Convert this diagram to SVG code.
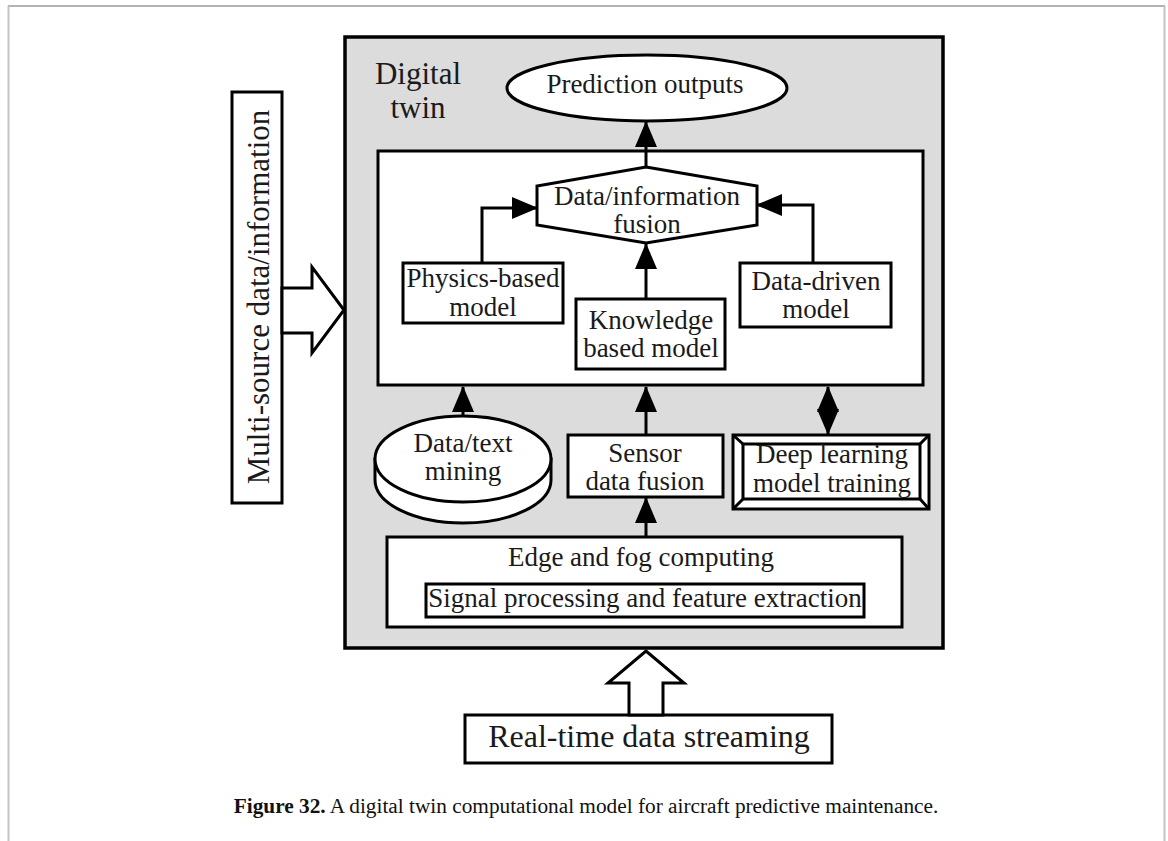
<svg xmlns="http://www.w3.org/2000/svg" width="1168" height="841" viewBox="0 0 1168 841">
  <style>
    .box { fill: #ffffff; stroke: #000000; stroke-width: 3; }
    .lbl { font-family: "Liberation Serif", "Times New Roman", serif; font-size: 27px; fill: #1a1a1a; text-anchor: middle; }
    .conn { fill: none; stroke: #000000; stroke-width: 3; }
    .cap { font-family: "Liberation Serif", "Times New Roman", serif; font-size: 21.3px; fill: #111111; text-anchor: middle; }
  </style>
  <defs>
    <marker id="head" viewBox="0 0 26 22" refX="25" refY="11" markerWidth="26" markerHeight="22" markerUnits="userSpaceOnUse" orient="auto-start-reverse">
      <path d="M0,0 L26,11 L0,22 Z" fill="#000000"/>
    </marker>
  </defs>

  <!-- page frame -->
  <g id="frame" fill="none">
    <line x1="8" y1="6" x2="1165" y2="6" stroke="#9a9a9a" stroke-width="1.5"/>
    <line x1="8.5" y1="6" x2="8.5" y2="841" stroke="#c4c4c4" stroke-width="2"/>
    <line x1="1164.5" y1="6" x2="1164.5" y2="841" stroke="#c4c4c4" stroke-width="2"/>
  </g>

  <!-- digital twin container -->
  <g id="digital-twin">
    <rect x="345" y="37" width="598" height="611" fill="#dcdcdc" stroke="#000000" stroke-width="3.5"/>
    <text class="lbl" x="418" y="84" style="font-size:31px">Digital</text>
    <text class="lbl" x="418" y="118" style="font-size:31px">twin</text>
  </g>

  <g id="model-panel">
    <rect class="box" x="378" y="151" width="545" height="234"/>
  </g>

  <g id="prediction-outputs">
    <ellipse class="box" cx="647" cy="88" rx="140" ry="33"/>
    <text class="lbl" x="645" y="93">Prediction outputs</text>
  </g>

  <g id="fusion">
    <polygon class="box" points="646,167 757,186 757,225 646,243 537,225 537,186"/>
    <text class="lbl" x="647" y="205">Data/information</text>
    <text class="lbl" x="647" y="233">fusion</text>
  </g>

  <g id="physics-model">
    <rect class="box" x="403" y="263" width="160" height="60"/>
    <text class="lbl" x="483" y="287">Physics-based</text>
    <text class="lbl" x="483" y="316">model</text>
  </g>

  <g id="knowledge-model">
    <rect class="box" x="576" y="299" width="149" height="70"/>
    <text class="lbl" x="651" y="329">Knowledge</text>
    <text class="lbl" x="651" y="357">based model</text>
  </g>

  <g id="data-driven-model">
    <rect class="box" x="740" y="263" width="151" height="64"/>
    <text class="lbl" x="816" y="290">Data-driven</text>
    <text class="lbl" x="816" y="318">model</text>
  </g>

  <g id="text-mining">
    <path class="box" d="M375,459 L375,480 A88,43 0 0,0 551,480 L551,459 Z"/>
    <ellipse class="box" cx="463" cy="459" rx="88" ry="43"/>
    <text class="lbl" x="463" y="452">Data/text</text>
    <text class="lbl" x="463" y="480">mining</text>
  </g>

  <g id="sensor-fusion">
    <rect class="box" x="568" y="435" width="155" height="62"/>
    <text class="lbl" x="645" y="462">Sensor</text>
    <text class="lbl" x="645" y="490">data fusion</text>
  </g>

  <g id="deep-learning">
    <rect class="box" x="733" y="435" width="196" height="74" stroke-width="3.5"/>
    <rect class="box" x="743" y="444" width="177" height="55"/>
    <path class="conn" d="M733,435 L743,444 M929,435 L920,444 M733,509 L743,499 M929,509 L920,499" stroke-width="2.5"/>
    <text class="lbl" x="832" y="463">Deep learning</text>
    <text class="lbl" x="832" y="492">model training</text>
  </g>

  <g id="edge-fog">
    <rect class="box" x="387" y="537" width="515" height="90"/>
    <text class="lbl" x="641" y="566">Edge and fog computing</text>
    <rect class="box" x="426" y="584" width="438" height="33"/>
    <text class="lbl" x="645" y="607">Signal processing and feature extraction</text>
  </g>

  <g id="multi-source">
    <rect class="box" x="232" y="92" width="50" height="411"/>
    <text class="lbl" transform="translate(269,297) rotate(-90)" style="font-size:31px">Multi-source data/information</text>
  </g>

  <g id="real-time">
    <rect class="box" x="465" y="715" width="367" height="48"/>
    <text class="lbl" x="649" y="747" style="font-size:32px">Real-time data streaming</text>
  </g>

  <!-- connectors -->
  <g id="connectors">
    <path class="conn" d="M646,167 V122" marker-end="url(#head)"/>
    <path class="conn" d="M482,263 V208 H537" marker-end="url(#head)"/>
    <path class="conn" d="M646,299 V244" marker-end="url(#head)"/>
    <path class="conn" d="M813,263 V205 H757" marker-end="url(#head)"/>
    <path class="conn" d="M463,416 V387" marker-end="url(#head)"/>
    <path class="conn" d="M646,435 V387" marker-end="url(#head)"/>
    <path class="conn" d="M646,537 V498" marker-end="url(#head)"/>
    <path class="conn" d="M828,434 V387" marker-start="url(#head)" marker-end="url(#head)"/>
    <polygon class="box" points="282,288 312,288 312,267 344,310 312,353 312,333 282,333"/>
    <polygon class="box" points="629,715 629,683 608,683 646,651 684,683 663,683 663,715"/>
  </g>

  <text class="cap" x="586" y="813"><tspan font-weight="bold">Figure 32.</tspan> A digital twin computational model for aircraft predictive maintenance.</text>
</svg>
